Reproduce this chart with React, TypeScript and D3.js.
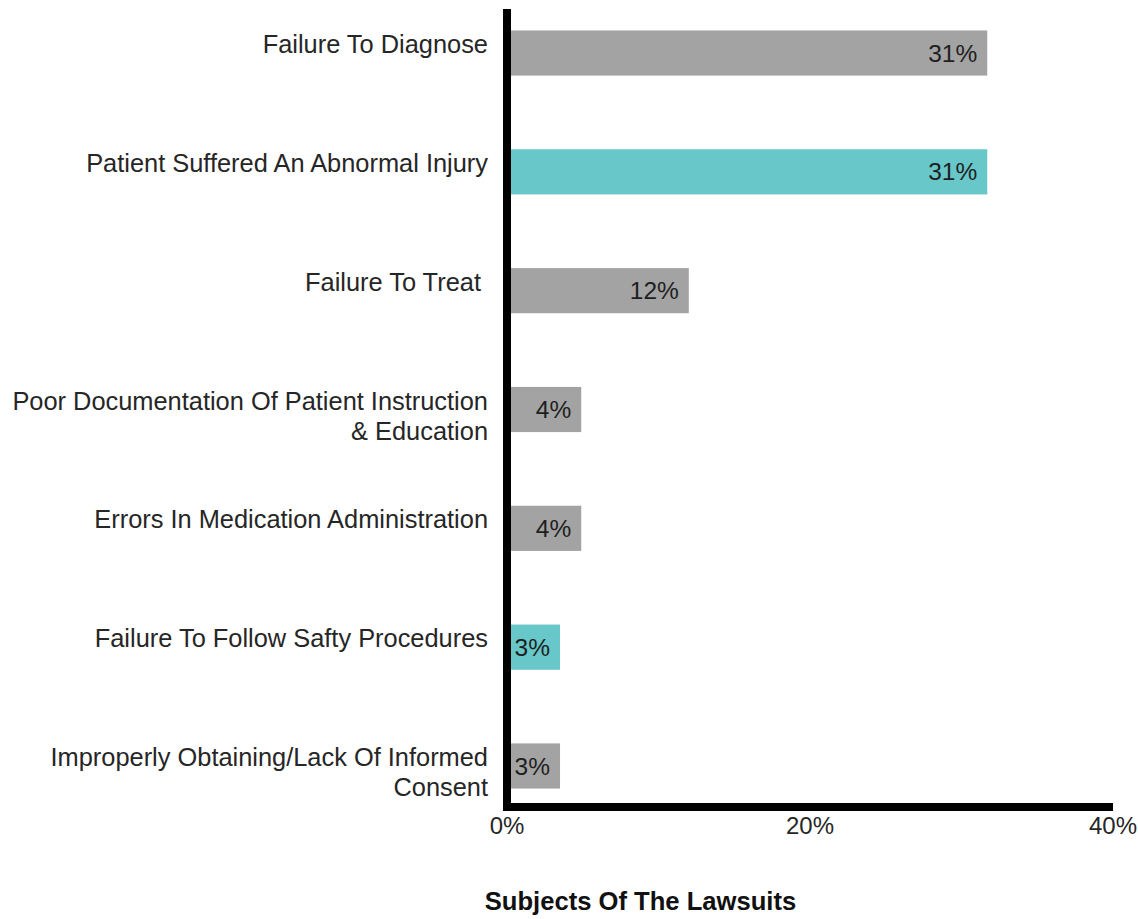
import React from 'react'
import * as d3 from 'd3'

// Subjects of the lawsuits
const categories = [
  ['Failure To Diagnose'],
  ['Patient Suffered An Abnormal Injury'],
  ['Failure To Treat '],
  ['Poor Documentation Of Patient Instruction', '& Education'],
  ['Errors In Medication Administration'],
  ['Failure To Follow Safty Procedures'],
  ['Improperly Obtaining/Lack Of Informed', 'Consent'],
]
const values = [31.7, 31.7, 12.0, 4.9, 4.9, 3.5, 3.5]
const valueLabels = ['31%', '31%', '12%', '4%', '4%', '3%', '3%']
const highlighted = [false, true, false, false, false, true, false]
const xTicks = [0, 20, 40]
const axisTitle = 'Subjects Of The Lawsuits'

const W = 1138
const H = 919
const GRAY = '#a3a3a3'
const TEAL = '#67c7c9'
const TEXT = '#262626'
const FONT = '"Liberation Sans", Arial, Helvetica, sans-serif'

export default function App() {
  const plotTop = 9
  const plotBottom = 807
  const x = d3.scaleLinear().domain([0, 40]).range([507, 1113])
  const keys = categories.map((c) => c.join(' '))
  const y = d3
    .scaleBand<string>()
    .domain(keys)
    .range([-6.4, 825.4])
    .paddingInner(0.62)
    .paddingOuter(0.31)

  return (
    <svg
      width={W}
      height={H}
      style={{ position: 'absolute', left: 0, top: 0, background: '#fff' }}
      fontFamily={FONT}
    >
      {/* bars */}
      {values.map((v, i) => (
        <rect
          key={keys[i]}
          x={x(0)}
          y={y(keys[i])}
          width={x(v) - x(0)}
          height={y.bandwidth()}
          fill={highlighted[i] ? TEAL : GRAY}
        />
      ))}

      {/* value labels */}
      {values.map((v, i) => (
        <text
          key={'v' + i}
          x={x(v) - 10}
          y={(y(keys[i]) ?? 0) + y.bandwidth() / 2}
          dy="0.35em"
          textAnchor="end"
          fontSize={24.5}
          fill="#1f1f1f"
        >
          {valueLabels[i]}
        </text>
      ))}

      {/* category labels, first baseline sits on the bar centre */}
      {categories.map((lines, i) => {
        const cy = (y(keys[i]) ?? 0) + y.bandwidth() / 2
        return (
          <text
            key={'c' + i}
            x={488}
            y={cy}
            textAnchor="end"
            fontSize={25.4}
            fill={TEXT}
            style={{ whiteSpace: 'pre' }}
          >
            {lines.map((l, j) => (
              <tspan key={j} x={488} y={cy + j * 30}>
                {l}
              </tspan>
            ))}
          </text>
        )
      })}

      {/* axes */}
      <line x1={x(0)} x2={x(0)} y1={plotTop} y2={plotBottom + 4} stroke="#000" strokeWidth={8} />
      <line x1={x(0) - 4} x2={x(40)} y1={plotBottom} y2={plotBottom} stroke="#000" strokeWidth={8} />

      {xTicks.map((t) => (
        <text
          key={'t' + t}
          x={x(t)}
          y={834}
          textAnchor="middle"
          fontSize={24}
          fill={TEXT}
        >
          {t}%
        </text>
      ))}

      <text
        x={640.5}
        y={910}
        textAnchor="middle"
        fontSize={25.6}
        fontWeight="bold"
        fill="#111"
      >
        {axisTitle}
      </text>
    </svg>
  )
}
